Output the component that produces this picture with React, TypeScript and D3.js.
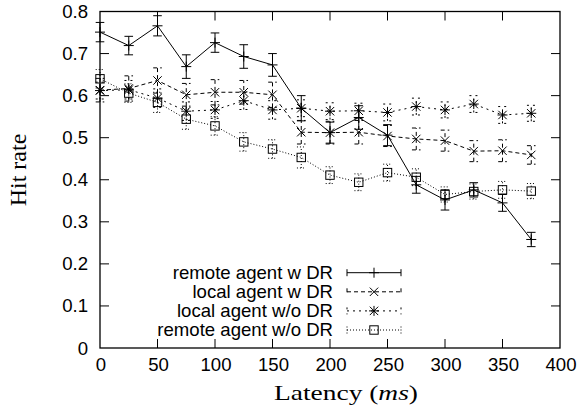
import React from 'react';
import * as d3 from 'd3';

const latency = [0, 25, 50, 75, 100, 125, 150, 175, 200, 225, 250, 275, 300, 325, 350, 375];

const remoteWithDR = [0.751, 0.719, 0.766, 0.669, 0.726, 0.693, 0.673, 0.570, 0.512, 0.548, 0.506, 0.388, 0.352, 0.376, 0.345, 0.258];
const remoteWithDRErr = [0.023, 0.022, 0.024, 0.028, 0.023, 0.028, 0.027, 0.03, 0.025, 0.028, 0.025, 0.02, 0.024, 0.017, 0.02, 0.017];

const localWithDR = [0.613, 0.617, 0.636, 0.602, 0.608, 0.608, 0.602, 0.513, 0.512, 0.513, 0.504, 0.497, 0.493, 0.468, 0.469, 0.459];
const localWithDRErr = [0.028, 0.03, 0.03, 0.027, 0.03, 0.028, 0.03, 0.028, 0.027, 0.028, 0.025, 0.026, 0.025, 0.025, 0.026, 0.022];

const localNoDR = [0.612, 0.614, 0.594, 0.563, 0.566, 0.588, 0.566, 0.570, 0.563, 0.564, 0.560, 0.574, 0.566, 0.580, 0.554, 0.558];
const localNoDRErr = [0.02, 0.022, 0.022, 0.022, 0.02, 0.021, 0.022, 0.02, 0.02, 0.018, 0.02, 0.02, 0.019, 0.02, 0.02, 0.019];

const remoteNoDR = [0.640, 0.606, 0.584, 0.544, 0.528, 0.490, 0.473, 0.453, 0.411, 0.394, 0.417, 0.406, 0.365, 0.372, 0.376, 0.373];
const remoteNoDRErr = [0.022, 0.022, 0.024, 0.024, 0.022, 0.022, 0.022, 0.025, 0.02, 0.02, 0.02, 0.02, 0.018, 0.018, 0.02, 0.018];

const xTicks = [0, 50, 100, 150, 200, 250, 300, 350, 400];
const yTicks = [0, 0.1, 0.2, 0.3, 0.4, 0.5, 0.6, 0.7, 0.8];

const seriesNames = ['remote agent w DR', 'local agent w DR', 'local agent w/o DR', 'remote agent w/o DR'];

type Marker = 'plus' | 'cross' | 'star' | 'square';

const series = [
  { name: seriesNames[0], values: remoteWithDR, err: remoteWithDRErr, dash: 'none', marker: 'plus' as Marker },
  { name: seriesNames[1], values: localWithDR, err: localWithDRErr, dash: '4,3', marker: 'cross' as Marker },
  { name: seriesNames[2], values: localNoDR, err: localNoDRErr, dash: '2,4', marker: 'star' as Marker },
  { name: seriesNames[3], values: remoteNoDR, err: remoteNoDRErr, dash: '1,2', marker: 'square' as Marker },
];

const W = 579;
const H = 409;
const plot = { left: 100, right: 560, top: 11.5, bottom: 348 };
const SANS = '"Liberation Sans", Arial, Helvetica, sans-serif';
const SERIF = '"Liberation Serif", "Times New Roman", serif';

function MarkerShape({ type, x, y }: { type: Marker; x: number; y: number }) {
  const s = 5;
  const d = 4.2;
  const props = { stroke: '#000', strokeWidth: 1, fill: 'none' };
  if (type === 'plus') {
    return (
      <g {...props}>
        <line x1={x - s} x2={x + s} y1={y} y2={y} />
        <line x1={x} x2={x} y1={y - s} y2={y + s} />
      </g>
    );
  }
  if (type === 'cross') {
    return (
      <g {...props}>
        <line x1={x - d} x2={x + d} y1={y - d} y2={y + d} />
        <line x1={x - d} x2={x + d} y1={y + d} y2={y - d} />
      </g>
    );
  }
  if (type === 'star') {
    return (
      <g {...props}>
        <line x1={x - s} x2={x + s} y1={y} y2={y} />
        <line x1={x} x2={x} y1={y - s} y2={y + s} />
        <line x1={x - d} x2={x + d} y1={y - d} y2={y + d} />
        <line x1={x - d} x2={x + d} y1={y + d} y2={y - d} />
      </g>
    );
  }
  return <rect x={x - 4.2} y={y - 4.2} width={8.4} height={8.4} {...props} />;
}

export default function App() {
  const x = d3.scaleLinear().domain([0, 400]).range([plot.left, plot.right]);
  const y = d3.scaleLinear().domain([0, 0.8]).range([plot.bottom, plot.top]);
  const line = d3
    .line<number>()
    .x((_, i) => x(latency[i]))
    .y((v) => y(v));

  const tickLen = 9;
  const cap = 4.3;

  // legend layout
  const legTextRight = 333;
  const legX1 = 347;
  const legX2 = 401;
  const legRow0 = 272.7;
  const legStep = 19.1;

  return (
    <svg
      width={W}
      height={H}
      style={{ position: 'absolute', left: 0, top: 0, background: '#fff' }}
    >
      <rect width={W} height={H} fill="#fff" />

      {/* ticks, mirrored on all sides, pointing inward */}
      <g stroke="#000" strokeWidth={1}>
        {xTicks.slice(1, -1).map((t) => (
          <g key={'xt' + t}>
            <line x1={x(t)} x2={x(t)} y1={plot.bottom} y2={plot.bottom - tickLen} />
            <line x1={x(t)} x2={x(t)} y1={plot.top} y2={plot.top + tickLen} />
          </g>
        ))}
        {yTicks.slice(1, -1).map((t) => (
          <g key={'yt' + t}>
            <line x1={plot.left} x2={plot.left + tickLen} y1={y(t)} y2={y(t)} />
            <line x1={plot.right} x2={plot.right - tickLen} y1={y(t)} y2={y(t)} />
          </g>
        ))}
      </g>

      <g fontFamily={SANS} fontSize={18.6} fill="#000">
        {xTicks.map((t) => (
          <text key={'xl' + t} x={x(t) + 1} y={371} textAnchor="middle">
            {t}
          </text>
        ))}
        {yTicks.map((t) => (
          <text key={'yl' + t} x={88} y={y(t) + 6.5} textAnchor="end">
            {t === 0 ? '0' : d3.format('.1f')(t)}
          </text>
        ))}
      </g>

      {/* series */}
      {series.map((s) => (
        <g key={s.name} stroke="#000" strokeWidth={1} fill="none" strokeDasharray={s.dash === 'none' ? undefined : s.dash}>
          <path d={line(s.values) || ''} />
          {s.values.map((v, i) => {
            const cx = x(latency[i]);
            const lo = y(v - s.err[i]);
            const hi = y(v + s.err[i]);
            return (
              <g key={i}>
                <line x1={cx} x2={cx} y1={lo} y2={hi} />
                <line x1={cx - cap} x2={cx + cap} y1={lo} y2={lo} />
                <line x1={cx - cap} x2={cx + cap} y1={hi} y2={hi} />
              </g>
            );
          })}
        </g>
      ))}
      {series.map((s) => (
        <g key={s.name + '-m'}>
          {s.values.map((v, i) => (
            <MarkerShape key={i} type={s.marker} x={x(latency[i])} y={y(v)} />
          ))}
        </g>
      ))}

      {/* legend */}
      {series.map((s, k) => {
        const ry = legRow0 + k * legStep;
        return (
          <g key={s.name + '-leg'}>
            <text x={legTextRight} y={ry + 6.2} textAnchor="end" fontFamily={SANS} fontSize={18.6} fill="#000">
              {s.name}
            </text>
            <g stroke="#000" strokeWidth={1} strokeDasharray={s.dash === 'none' ? undefined : s.dash}>
              <line x1={legX1} x2={legX2} y1={ry} y2={ry} />
              <line x1={legX1} x2={legX1} y1={ry - 3.5} y2={ry + 3.5} />
              <line x1={legX2} x2={legX2} y1={ry - 3.5} y2={ry + 3.5} />
            </g>
            <MarkerShape type={s.marker} x={(legX1 + legX2) / 2} y={ry} />
          </g>
        );
      })}

      {/* frame */}
      <rect
        x={plot.left}
        y={plot.top}
        width={plot.right - plot.left}
        height={plot.bottom - plot.top}
        fill="none"
        stroke="#000"
        strokeWidth={1.3}
      />

      {/* axis titles */}
      <text
        transform={`translate(26,170) rotate(-90)`}
        textAnchor="middle"
        fontFamily={SERIF}
        fontSize={24}
        fill="#000"
      >
        Hit rate
      </text>
      <text
        x={346}
        y={400}
        textAnchor="middle"
        fontFamily={SERIF}
        fontSize={22}
        fill="#000"
        textLength={144}
        lengthAdjust="spacingAndGlyphs"
      >
        Latency (<tspan fontStyle="italic">ms</tspan>)
      </text>
    </svg>
  );
}
